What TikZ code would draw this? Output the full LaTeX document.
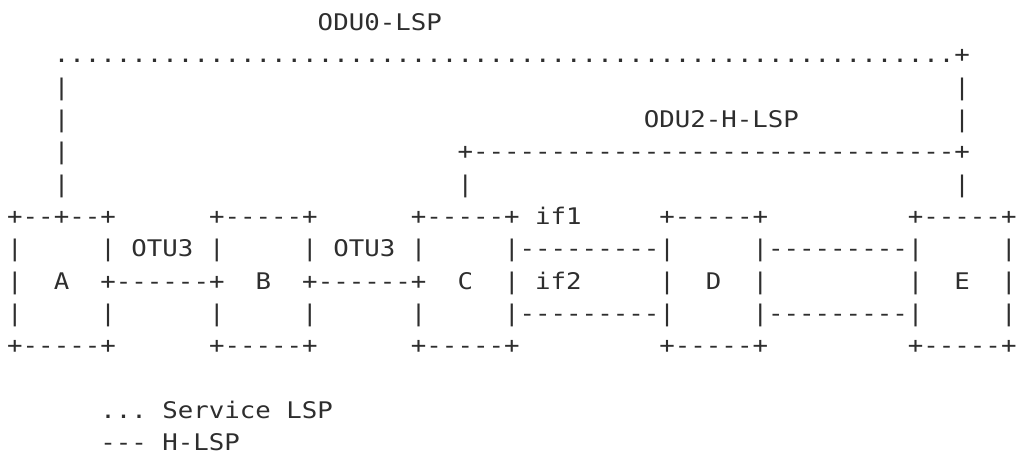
\documentclass[tikz,border=0pt]{standalone}
\usepackage{fontspec}
\setmonofont{DejaVu Sans Mono}[FakeStretch=1.125]
\definecolor{ink}{HTML}{2E2E2E}
\tikzset{
	glyph/.style={anchor=base,inner sep=0pt,outer sep=0pt,text=ink,font=\ttfamily\fontsize{11.5}{11.5}\selectfont},
	txt/.style={glyph,anchor=base west}
}
\begin{document}
\begin{tikzpicture}[x=7.8pt,y=-16.25pt]
\useasboundingbox (-0.962,-0.677) rectangle (64.531,13.355);
\node[txt] (odu0) at (19.5,0.26) {ODU0-LSP};
\foreach \c in {3,...,60}
{
	\node[glyph] (dot-\c) at (\c,1.26) {.};
}
\node[glyph] (odu0-e) at (61,1.26) {+};
\foreach \r in {2,...,5}
{
	\node[glyph] (odu0-a\r) at (3,\r+0.26) {|};
}
\foreach \r in {2,3,5}
{
	\node[glyph] (odu0-b\r) at (61,\r+0.26) {|};
}
\node[txt] (odu2) at (40.5,3.26) {ODU2-H-LSP};
\node[glyph] (odu2-w) at (29,4.26) {+};
\node[glyph] (odu2-e) at (61,4.26) {+};
\foreach \c in {30,...,60}
{
	\node[glyph] (odu2-\c) at (\c,4.26) {-};
}
\node[glyph] (odu2-c) at (29,5.26) {|};
\foreach \c/\n/\w/\e/\t in {0/A/|/+/+,13/B/+/+/-,26/C/+/|/-,42/D/|/|/-,58/E/|/|/-}
{
	\foreach \r in {6,10}
	{
		\node[glyph] (\n-w\r) at (\c,\r+0.26) {+};
		\node[glyph] (\n-e\r) at (\c+6,\r+0.26) {+};
		\foreach \i in {1,2,4,5}
		{
			\node[glyph] (\n-h\r-\i) at (\c+\i,\r+0.26) {-};
		}
	}
	\node[glyph] (\n-t) at (\c+3,6.26) {\t};
	\node[glyph] (\n-b) at (\c+3,10.26) {-};
	\foreach \r in {7,9}
	{
		\node[glyph] (\n-w\r) at (\c,\r+0.26) {|};
		\node[glyph] (\n-e\r) at (\c+6,\r+0.26) {|};
	}
	\node[glyph] (\n-w8) at (\c,8.26) {\w};
	\node[glyph] (\n-e8) at (\c+6,8.26) {\e};
	\node[glyph] (\n) at (\c+3,8.26) {\n};
}
\foreach \a/\c in {A/7,B/20}
{
	\node[txt] (otu-\a) at (\c+0.5,7.26) {OTU3};
	\foreach \i in {0,...,5}
	{
		\node[glyph] (otu-\a\i) at (\c+\i,8.26) {-};
	}
}
\node[txt] (if1) at (33.5,6.26) {if1};
\node[txt] (if2) at (33.5,8.26) {if2};
\foreach \c in {33,49}
{
	\foreach \r in {7,9}
	{
		\foreach \i in {0,...,8}
		{
			\node[glyph] (h-\c-\r-\i) at (\c+\i,\r+0.26) {-};
		}
	}
}
\node[txt] (key-s) at (5.5,12.26) {... Service LSP};
\node[txt] (key-h) at (5.5,13.26) {--- H-LSP};
\end{tikzpicture}
\end{document}
